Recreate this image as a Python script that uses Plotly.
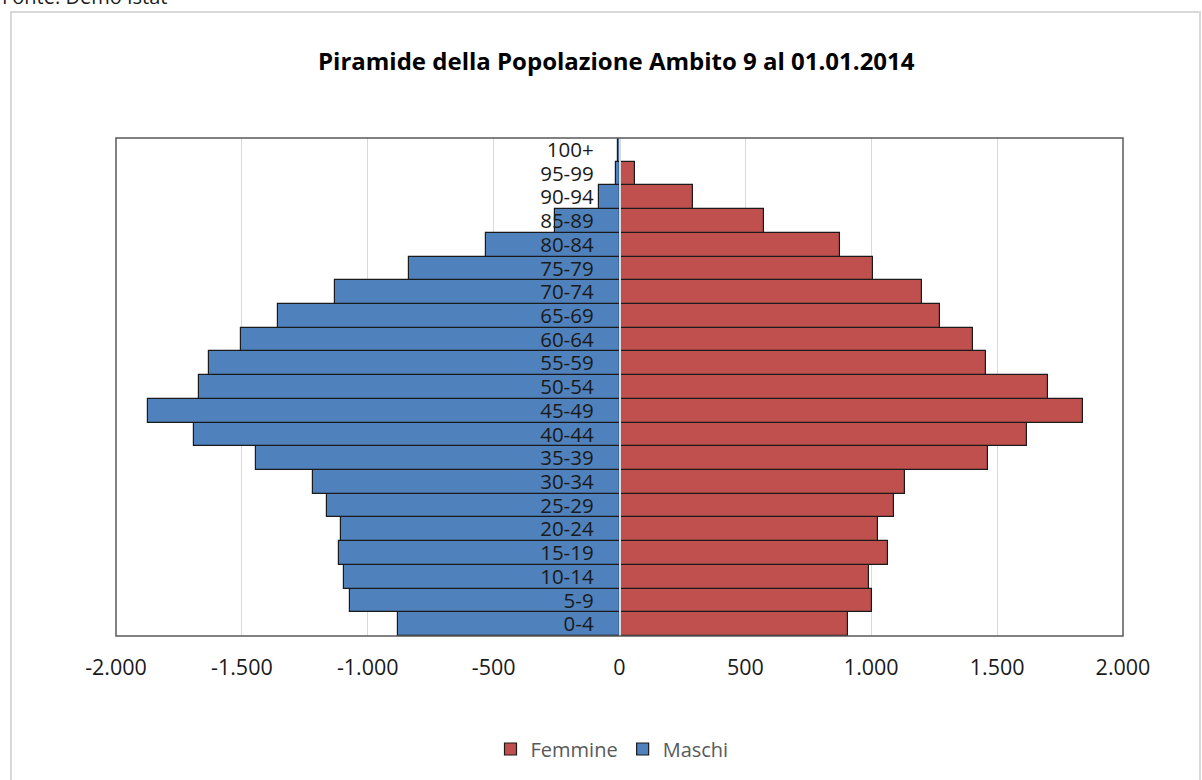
import plotly.graph_objects as go

categories = ["0-4", "5-9", "10-14", "15-19", "20-24", "25-29", "30-34", "35-39",
              "40-44", "45-49", "50-54", "55-59", "60-64", "65-69", "70-74",
              "75-79", "80-84", "85-89", "90-94", "95-99", "100+"]
maschi = [881, 1070, 1095, 1116, 1106, 1163, 1219, 1443, 1689, 1872, 1672,
          1631, 1503, 1358, 1131, 835, 529, 255, 80, 15, 5]
femmine = [907, 1001, 993, 1068, 1028, 1089, 1135, 1465, 1617, 1843, 1703,
           1455, 1404, 1272, 1200, 1007, 876, 575, 291, 61, 5]
x_tickvals = [-2000, -1500, -1000, -500, 0, 500, 1000, 1500, 2000]
x_ticktext = ["-2.000", "-1.500", "-1.000", "-500", "0", "500", "1.000", "1.500", "2.000"]
title_text = "Piramide della Popolazione Ambito 9 al 01.01.2014"
source_text = "Fonte: Demo Istat"

FONT = "Open Sans"

fig = go.Figure()
fig.add_trace(go.Bar(
    y=categories, x=femmine, orientation="h", name="Femmine",
    marker=dict(color="#C0504D", line=dict(color="#1a1a1a", width=1.2)),
))
fig.add_trace(go.Bar(
    y=categories, x=[-v for v in maschi], orientation="h", name="Maschi",
    marker=dict(color="#4F81BD", line=dict(color="#1a1a1a", width=1.2)),
))

# plot area: x 116..1123, y 138..636
L, R, T, B = 116, 1123, 138, 636
W, H = R - L, B - T

def px(x):
    return (x - L) / W

def py(y):
    return (B - y) / H

fig.update_layout(
    width=1202, height=780,
    margin=dict(l=L, r=1202 - R, t=T, b=780 - B, pad=0),
    paper_bgcolor="white", plot_bgcolor="white",
    barmode="overlay", bargap=0,
    font=dict(family=FONT, color="#000000"),
    showlegend=True,
    legend=dict(orientation="h", x=px(612), xanchor="center", y=py(749), yanchor="middle",
                font=dict(size=20, color="#595959", family=FONT), traceorder="normal",
                itemwidth=30),
    xaxis=dict(range=[-2000, 2000], tickvals=x_tickvals, ticktext=x_ticktext,
               showgrid=True, gridcolor="#d9d9d9", gridwidth=1, zeroline=False,
               showline=False, ticks="", ticklabelstandoff=16,
               tickfont=dict(size=21.5, family=FONT, color="#1a1a1a")),
    yaxis=dict(type="category", categoryorder="array", categoryarray=categories,
               tickmode="array", tickvals=categories, ticktext=categories,
               anchor="free", position=0.5, showgrid=False, zeroline=False,
               showline=True, linecolor="#d9d9d9", linewidth=1.5,
               ticks="", ticklabelstandoff=21, layer="above traces",
               tickfont=dict(size=20.5, family=FONT, color="#1a1a1a")),
)

fig.add_annotation(text="<b>" + title_text + "</b>", xref="paper", yref="paper",
                   x=px(616), y=py(60), xanchor="center", yanchor="middle",
                   showarrow=False, font=dict(size=24, family=FONT, color="#000000"))
fig.add_annotation(text=source_text, xref="paper", yref="paper",
                   x=px(0), y=py(12), xanchor="left", yanchor="bottom",
                   showarrow=False, font=dict(size=20, family=FONT, color="#1a1a1a"))

# outer chart border
fig.add_shape(type="rect", xref="paper", yref="paper",
              x0=px(11), x1=px(1200), y0=py(800), y1=py(12),
              line=dict(color="#d9d9d9", width=2), layer="below")
# plot area border
fig.add_shape(type="rect", xref="paper", yref="paper", x0=0, x1=1, y0=0, y1=1,
              line=dict(color="#595959", width=1.5), layer="above")

fig.write_html("out.html", config={"displayModeBar": False},
               post_script="document.body.style.margin='0';document.body.style.overflow='hidden';")
